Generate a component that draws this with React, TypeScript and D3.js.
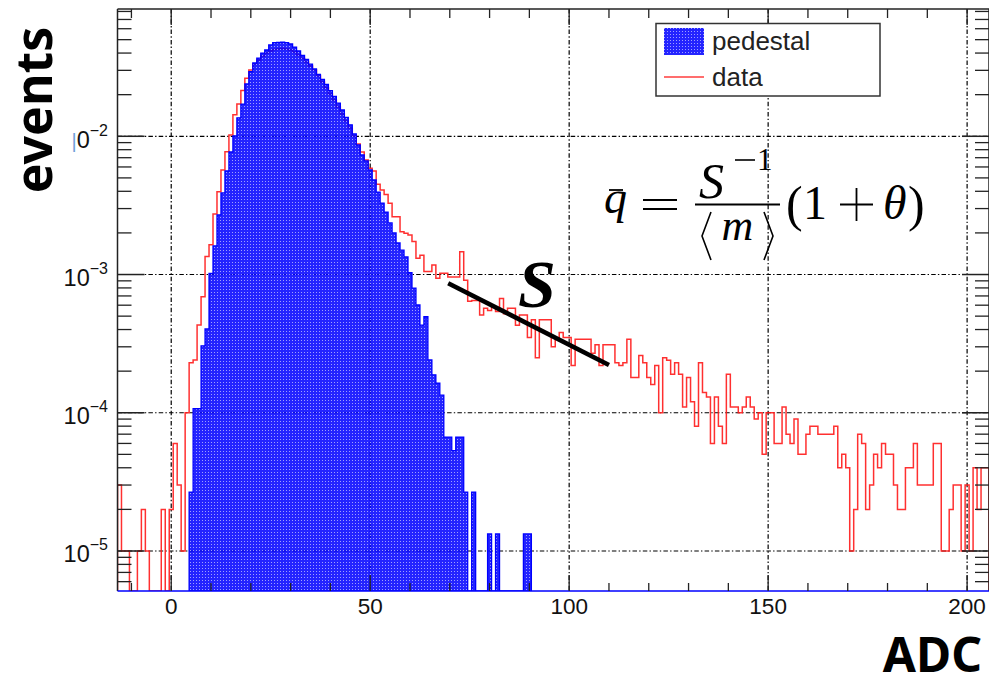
import React from "react";
import * as d3 from "d3";

// ---------- data ----------
const xDomain = [-13.5, 205.5];
const yDomain = [5.136e-6, 0.08333];
const xMajorTicks = [0, 50, 100, 150, 200];
const xMinorTicks = [-10, 10, 20, 30, 40, 60, 70, 80, 90, 110, 120, 130, 140, 160, 170, 180, 190];
const yDecadeTicks = [1e-2, 1e-3, 1e-4, 1e-5];
const yDecadeExponents = ["−2", "−3", "−4", "−5"];
const legendLabels = ["pedestal", "data"];

const dataFirstBin = -13;
const dataValues = [
  3e-5, 1e-5, 1e-5, 0, 0, 1e-5, 2e-5, 1e-5, 0, 0, 0, 2e-5, 0,
  2e-5, 6e-5, 3e-5, 1e-5, 1e-4,
  2.3e-4, 2.41e-4, 4.31e-4, 6.91e-4, 1.35e-3,
  1.64e-3, 2.74e-3, 3.97e-3, 5.7e-3, 7.74e-3,
  1.02e-2, 1.43e-2, 1.71e-2, 2.14e-2, 2.63e-2,
  3.02e-2, 3.33e-2, 3.56e-2, 3.81e-2, 4.0e-2,
  4.14e-2, 4.25e-2, 4.28e-2, 4.32e-2, 4.28e-2,
  4.21e-2, 4.07e-2, 3.87e-2, 3.65e-2, 3.45e-2,
  3.23e-2, 3.02e-2, 2.73e-2, 2.47e-2, 2.24e-2,
  2.02e-2, 1.83e-2, 1.63e-2, 1.45e-2, 1.29e-2,
  1.15e-2, 1.005e-2, 8.8e-3, 7.7e-3, 6.74e-3,
  5.88e-3, 5.61e-3, 4.5e-3, 4.09e-3, 3.8e-3,
  3.28e-3, 2.62e-3, 2.62e-3, 2.04e-3, 1.99e-3,
  1.93e-3, 1.73e-3, 1.31e-3, 1.38e-3, 1.05e-3,
  1.05e-3, 1.17e-3, 9.4e-4, 1.02e-3, 1.02e-3,
  9.6e-4, 9.6e-4, 9.6e-4, 1.46e-3, 9.1e-4,
  6.4e-4, 6.5e-4, 6.5e-4, 5.1e-4, 5.7e-4,
  5.5e-4, 5.8e-4, 5.4e-4, 6.7e-4, 5.2e-4,
  5.7e-4, 5.7e-4, 4.3e-4, 5.1e-4, 5.1e-4,
  3.5e-4, 4.7e-4, 2.5e-4, 4.7e-4, 4.7e-4,
  4.7e-4, 3.0e-4, 3.4e-4, 3.8e-4, 3.5e-4,
  3.5e-4, 2.2e-4, 3.4e-4, 3.4e-4, 3.4e-4,
  3.4e-4, 2.7e-4, 3.1e-4, 2.2e-4, 3.1e-4,
  3.1e-4, 3.1e-4, 2.3e-4, 2.2e-4, 2.3e-4,
  3.4e-4, 1.8e-4, 1.8e-4, 2.6e-4, 2.3e-4,
  1.8e-4, 1.6e-4, 2.2e-4, 1.0e-4, 2.5e-4,
  2.4e-4, 1.9e-4, 2.3e-4, 1.9e-4, 1.1e-4,
  1.8e-4, 1.2e-4, 8e-5, 2.3e-4, 1.4e-4,
  1.3e-4, 6e-5, 1.3e-4, 8e-5, 6e-5,
  1.9e-4, 1.1e-4, 1.1e-4, 1.0e-4, 1.1e-4,
  1.3e-4, 1.1e-4, 9e-5, 1.0e-4, 5e-5,
  1.0e-4, 1.0e-4, 6e-5, 6e-5, 1.1e-4,
  7e-5, 6e-5, 9e-5, 5e-5, 5e-5,
  7e-5, 8e-5, 8e-5, 7e-5, 7e-5,
  7e-5, 7e-5, 8e-5, 4e-5, 5e-5,
  4e-5, 1e-5, 2e-5, 7e-5, 6e-5,
  2e-5, 3e-5, 5e-5, 4e-5, 6e-5,
  5e-5, 5e-5, 3e-5, 2e-5, 2e-5,
  4e-5, 4e-5, 6e-5, 3e-5, 3e-5,
  3e-5, 3e-5, 6e-5, 6e-5, 1e-5,
  1e-5, 2e-5, 3e-5, 3e-5, 1e-5,
  3e-5, 1e-5, 4e-5, 2e-5, 4e-5,
  4e-5,
];

const pedestalFirstBin = 5;
const pedestalValues = [
  2.67e-5, 1.07e-4, 1.07e-4, 3.05e-4, 4.04e-4,
  1.02e-3, 1.61e-3, 2.7e-3, 3.89e-3, 5.61e-3,
  7.7e-3, 1.005e-2, 1.36e-2, 1.71e-2, 2.39e-2,
  2.93e-2, 3.39e-2, 3.68e-2, 4.0e-2, 4.21e-2,
  4.58e-2, 4.76e-2, 4.77e-2, 4.79e-2, 4.76e-2,
  4.65e-2, 4.42e-2, 4.14e-2, 3.84e-2, 3.6e-2,
  3.33e-2, 3.07e-2, 2.8e-2, 2.58e-2, 2.37e-2,
  2.14e-2, 1.94e-2, 1.74e-2, 1.55e-2, 1.37e-2,
  1.21e-2, 1.04e-2, 8.65e-3, 7.32e-3, 6.63e-3,
  5.71e-3, 4.83e-3, 3.95e-3, 3.29e-3, 2.83e-3,
  2.36e-3, 2.0e-3, 1.69e-3, 1.5e-3, 1.34e-3,
  1.03e-3, 7.98e-4, 6.02e-4, 4.31e-4, 4.95e-4,
  2.41e-4, 1.88e-4, 1.64e-4, 1.34e-4, 6.67e-5,
  6.67e-5, 5.33e-5, 6.67e-5, 6.67e-5, 2.67e-5,
  0, 2.67e-5, 0, 0, 0,
  1.33e-5, 0, 1.33e-5, 0, 0,
  0, 0, 0, 0, 1.33e-5,
  1.33e-5,
];

const slopeLine: [number, number][] = [
  [69.6, 8.65e-4],
  [110, 2.22e-4],
];

// ---------- layout ----------
const W = 989;
const H = 685;
const PL = 117.5;
const PR = 989;
const PT = 9;
const PB = 591;

export default function App() {
  const x = d3.scaleLinear().domain(xDomain).range([PL, PR]);
  const y = d3.scaleLog().domain(yDomain).range([PB, PT]);

  const histPath = (first: number, vals: number[], close: boolean) => {
    const p = d3.path();
    p.moveTo(x(first - 0.5), PB);
    vals.forEach((v, i) => {
      const n = first + i;
      const yy = v > 0 ? y(v) : PB;
      p.lineTo(x(n - 0.5), yy);
      p.lineTo(x(n + 0.5), yy);
    });
    p.lineTo(x(first + vals.length - 0.5), PB);
    if (close) p.closePath();
    return p.toString();
  };

  const yMinor: number[] = [];
  for (let e = -6; e <= -1; e++) {
    for (let k = 2; k <= 9; k++) {
      const v = k * Math.pow(10, e);
      if (v > yDomain[0] && v < yDomain[1]) yMinor.push(v);
    }
  }

  const gridDash = "4.5 2.2 1.4 2.2";
  const line = d3
    .line<[number, number]>()
    .x((d) => x(d[0]))
    .y((d) => y(d[1]));

  const tickColor = "#222";
  const labelFont = "'Liberation Sans', Arial, sans-serif";
  const mathFont = "'Liberation Serif', 'Times New Roman', serif";

  return (
    <svg
      width={W}
      height={H}
      style={{ position: "absolute", left: 0, top: 0, background: "#fff" }}
    >
      <defs>
        <pattern id="pedFill" width="3" height="3" patternUnits="userSpaceOnUse">
          <rect width="3" height="3" fill="#0000ff" fillOpacity="0.86" />
          <rect x="1" y="1" width="1" height="1" fill="#c8c8ff" fillOpacity="0.75" />
        </pattern>
        <clipPath id="plotClip">
          <rect x={PL} y={PT} width={PR - PL} height={PB - PT} />
        </clipPath>
      </defs>

      <rect x={0} y={0} width={W} height={H} fill="#fff" />

      {/* grid */}
      {xMajorTicks.map((t) => (
        <line
          key={"gx" + t}
          x1={x(t)}
          x2={x(t)}
          y1={PT}
          y2={PB}
          stroke="#000"
          strokeWidth={1.2}
          strokeDasharray={gridDash}
        />
      ))}
      {yDecadeTicks.map((t) => (
        <line
          key={"gy" + t}
          x1={PL}
          x2={PR}
          y1={y(t)}
          y2={y(t)}
          stroke="#000"
          strokeWidth={1.2}
          strokeDasharray={gridDash}
        />
      ))}

      <g clipPath="url(#plotClip)">
        {/* data (red) */}
        <path
          d={histPath(dataFirstBin, dataValues, false)}
          fill="none"
          stroke="#ff1a1a"
          strokeWidth={1.5}
          strokeOpacity={0.9}
        />
        {/* pedestal fill */}
        <path d={histPath(pedestalFirstBin, pedestalValues, true)} fill="url(#pedFill)" stroke="none" />
        <path
          d={histPath(pedestalFirstBin, pedestalValues, false)}
          fill="none"
          stroke="#0000ff"
          strokeWidth={1.3}
        />
      </g>

      {/* axes frame */}
      <line x1={PL} x2={PL} y1={PT} y2={PB} stroke={tickColor} strokeWidth={1.5} />
      <line x1={PR} x2={PR} y1={PT} y2={PB} stroke={tickColor} strokeWidth={1.5} />
      <line x1={PL} x2={PR} y1={PT} y2={PT} stroke={tickColor} strokeWidth={1.5} />
      <line x1={PL} x2={PR} y1={PB} y2={PB} stroke="#0000ff" strokeWidth={1.6} />

      {/* x ticks */}
      {xMajorTicks.map((t) => (
        <g key={"xt" + t}>
          <line x1={x(t)} x2={x(t)} y1={PB} y2={PB - 16} stroke={tickColor} strokeWidth={1.3} />
          <line x1={x(t)} x2={x(t)} y1={PT} y2={PT + 16} stroke={tickColor} strokeWidth={1.3} />
          <text
            x={x(t)}
            y={614}
            textAnchor="middle"
            fontFamily={labelFont}
            fontSize={22.5}
            fill="#111"
          >
            {t}
          </text>
        </g>
      ))}
      {xMinorTicks.map((t) => (
        <g key={"xm" + t}>
          <line x1={x(t)} x2={x(t)} y1={PB} y2={PB - 8} stroke={tickColor} strokeWidth={1.3} />
          <line x1={x(t)} x2={x(t)} y1={PT} y2={PT + 9} stroke={tickColor} strokeWidth={1.3} />
        </g>
      ))}

      {/* y ticks */}
      {yDecadeTicks.map((t, i) => (
        <g key={"yt" + t}>
          <line x1={PL} x2={PL + 27} y1={y(t)} y2={y(t)} stroke={tickColor} strokeWidth={1.5} />
          <line x1={PR} x2={PR - 27} y1={y(t)} y2={y(t)} stroke={tickColor} strokeWidth={1.5} />
          <text
            x={108}
            y={y(t) + 11.5}
            textAnchor="end"
            fontFamily={labelFont}
            fontSize={23.5}
            fill="#111"
          >
            {i === 0 ? (
              <tspan fill="#6f9fd8" fontSize={20}>
                |
              </tspan>
            ) : (
              "1"
            )}
            0
            <tspan dy={-12} fontSize={16}>
              {yDecadeExponents[i]}
            </tspan>
          </text>
        </g>
      ))}
      {yMinor.map((t) => (
        <g key={"ym" + t}>
          <line x1={PL} x2={PL + 14} y1={y(t)} y2={y(t)} stroke={tickColor} strokeWidth={1.3} />
          <line x1={PR} x2={PR - 14} y1={y(t)} y2={y(t)} stroke={tickColor} strokeWidth={1.3} />
        </g>
      ))}

      {/* slope annotation */}
      <path d={line(slopeLine) || ""} stroke="#000" strokeWidth={4.5} fill="none" />
      <text
        x={537}
        y={307}
        textAnchor="middle"
        fontFamily={mathFont}
        fontStyle="italic"
        fontWeight="bold"
        fontSize={68}
        fill="#000"
      >
        S
      </text>

      {/* legend */}
      <rect x={656} y={23.5} width={224} height={72.5} fill="#fff" stroke="#333" strokeWidth={1.5} />
      <rect x={664} y={28} width={40} height={27} fill="url(#pedFill)" />
      <line x1={664} x2={704} y1={77} y2={77} stroke="#ff1a1a" strokeWidth={1.5} strokeOpacity={0.85} />
      <text x={712} y={50} fontFamily={labelFont} fontSize={26} fill="#222">
        {legendLabels[0]}
      </text>
      <text x={712} y={86} fontFamily={labelFont} fontSize={26} fill="#222">
        {legendLabels[1]}
      </text>

      {/* formula */}
      <g fill="#000" fontFamily={mathFont}>
        <text x={604} y={213} fontStyle="italic" fontSize={46}>
          q
        </text>
        <line x1={609} x2={623} y1={190} y2={190} stroke="#000" strokeWidth={1.8} />
        <line x1={643} x2={677} y1={200} y2={200} stroke="#000" strokeWidth={1.8} />
        <line x1={643} x2={677} y1={209} y2={209} stroke="#000" strokeWidth={1.8} />
        <line x1={695} x2={780} y1={204.5} y2={204.5} stroke="#000" strokeWidth={1.8} />
        <text x={699} y={198} fontStyle="italic" fontSize={50}>
          S
        </text>
        <line x1={735} x2={755} y1={160} y2={160} stroke="#000" strokeWidth={1.6} />
        <text x={757} y={170} fontSize={31}>
          1
        </text>
        <path d="M711,212 L702,236 L711,260" stroke="#000" strokeWidth={1.6} fill="none" />
        <path d="M764,212 L773,236 L764,260" stroke="#000" strokeWidth={1.6} fill="none" />
        <text x={737.5} y={240} textAnchor="middle" fontStyle="italic" fontSize={44}>
          m
        </text>
        <text x={786} y={221} fontSize={50}>
          (
        </text>
        <text x={803} y={219} fontSize={48}>
          1
        </text>
        <line x1={840} x2={873} y1={204.5} y2={204.5} stroke="#000" strokeWidth={1.8} />
        <line x1={856.5} x2={856.5} y1={188} y2={221} stroke="#000" strokeWidth={1.8} />
        <text x={883} y={219} fontStyle="italic" fontSize={48}>
          θ
        </text>
        <text x={908} y={221} fontSize={50}>
          )
        </text>
      </g>

      {/* axis titles */}
      <text
        transform="translate(52,110) rotate(-90)"
        textAnchor="middle"
        fontFamily="'Noto Sans', 'Open Sans', sans-serif"
        fontWeight="bold"
        fontSize={50}
        fill="#000"
      >
        events
      </text>
      <text
        x={982}
        y={672}
        textAnchor="end"
        fontFamily="'Noto Sans', 'Open Sans', sans-serif"
        fontWeight="bold"
        fontSize={48}
        fill="#000"
      >
        ADC
      </text>
    </svg>
  );
}
